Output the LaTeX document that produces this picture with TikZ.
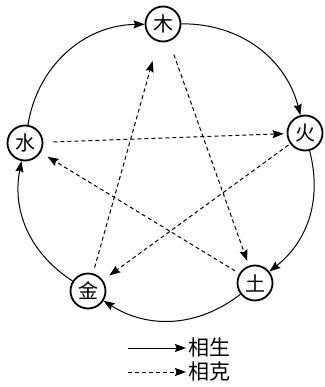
\documentclass[tikz,border=0pt]{standalone}
\usepackage{fontspec}
\newfontfamily\cjk{Noto Sans CJK SC}
\usetikzlibrary{arrows.meta}
\begin{document}
\begin{tikzpicture}[x=1pt,y=1pt,
  elem/.style={circle,draw,line width=1.8pt,minimum size=35pt,inner sep=0pt,font=\cjk\fontsize{20}{20}\selectfont},
  sheng/.style={line width=1pt,-{Stealth[length=11pt,width=8pt,inset=1.5pt]}},
  ke/.style={sheng,dash pattern=on 4pt off 3pt},
  lbl/.style={font=\cjk\fontsize{21}{21}\selectfont,anchor=west,inner sep=0pt}]
\useasboundingbox (0,0) rectangle (324,-387);
\node[elem] (mu)   at (163,-24)  {木};
\node[elem] (huo)  at (305,-133) {火};
\node[elem] (tu)   at (255,-283) {土};
\node[elem] (jin)  at (88,-291)  {金};
\node[elem] (shui) at (25,-143)  {水};
% sheng cycle
\draw[sheng] (mu) to[bend left=38] (huo);
\draw[sheng] (huo) to[bend left=33] (tu);
\draw[sheng] (tu) to[bend left=35] (jin);
\draw[sheng] (jin) to[bend left=34] (shui);
\draw[sheng] (shui) to[bend left=40] (mu);
% ke cycle
\draw[ke,shorten <=14pt,shorten >=5pt] (mu) -- (tu);
\draw[ke,shorten <=5pt,shorten >=8pt] (tu) -- (shui);
\draw[ke,shorten <=10pt,shorten >=3pt] (shui) -- (huo);
\draw[ke,shorten <=2pt,shorten >=8pt] (huo) -- (jin);
\draw[ke,shorten <=6pt,shorten >=20pt] (jin) -- (mu);
% legend
\coordinate (s1) at (128,-348);
\coordinate (s2) at (186,-348);
\coordinate (k1) at (128,-372);
\coordinate (k2) at (186,-372);
\draw[sheng] (s1) -- (s2);
\draw[ke] (k1) -- (k2);
\node[lbl] (ls) at (188,-348) {相生};
\node[lbl] (lk) at (188,-372) {相克};
\end{tikzpicture}
\end{document}
